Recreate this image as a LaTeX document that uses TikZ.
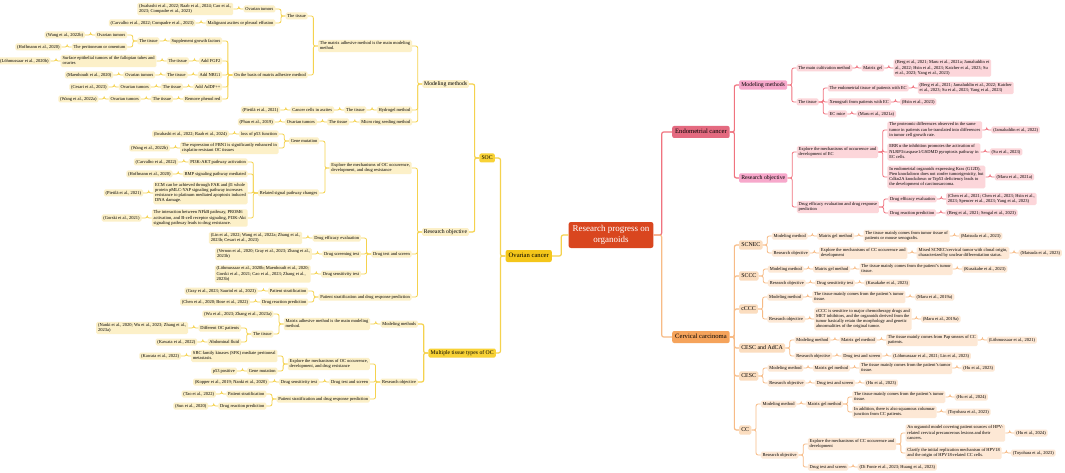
\documentclass[tikz,border=0pt]{standalone}
\usepackage{fontspec}
\setmainfont{Liberation Serif}
\usetikzlibrary{calc}
\definecolor{rootc}{HTML}{D9461F}
\definecolor{ytopc}{HTML}{F4C61A}
\definecolor{ymidc}{HTML}{F8D236}
\definecolor{yleafc}{HTML}{FCF0C8}
\definecolor{ylinec}{HTML}{F5D24E}
\definecolor{ptopc}{HTML}{E46A80}
\definecolor{pmidc}{HTML}{F7A8CB}
\definecolor{pleafc}{HTML}{FCD6DA}
\definecolor{plinec}{HTML}{F0737F}
\definecolor{otopc}{HTML}{F5A35B}
\definecolor{omidc}{HTML}{FBDDBF}
\definecolor{oleafc}{HTML}{FDE8D5}
\definecolor{olinec}{HTML}{F7BB86}
\tikzset{
 box/.style={rounded corners=1.5pt, align=left, inner xsep=1.8pt, inner ysep=0.9pt},
 leaf/.style={box, font=\fontsize{4.5}{5.2}\selectfont},
 yl/.style={leaf, fill=yleafc},
 pl/.style={leaf, fill=pleafc},
 ol/.style={leaf, fill=oleafc},
 ysub/.style={box, fill=yleafc, font=\fontsize{5.7}{6.8}\selectfont, inner ysep=0.5pt},
 ymid/.style={box, fill=ymidc, font=\fontsize{5.7}{6.8}\selectfont, inner xsep=2.2pt, inner ysep=1.1pt},
 ytop/.style={box, fill=ytopc, font=\fontsize{6.6}{8}\selectfont, inner xsep=3pt, inner ysep=2pt, rounded corners=2pt},
 pmid/.style={box, fill=pmidc, font=\fontsize{5.8}{7}\selectfont, inner xsep=2.2pt, inner ysep=1.1pt},
 ptop/.style={box, fill=ptopc, font=\fontsize{6.6}{8}\selectfont, inner xsep=3pt, inner ysep=2pt, rounded corners=2pt},
 omid/.style={box, fill=omidc, font=\fontsize{5.9}{7}\selectfont, inner xsep=2.2pt, inner ysep=1.1pt},
 otop/.style={box, fill=otopc, font=\fontsize{6.6}{8}\selectfont, inner xsep=3pt, inner ysep=2pt, rounded corners=2pt},
 root/.style={box, fill=rootc, text=white, font=\fontsize{9}{11}\selectfont, align=center, inner xsep=4pt, inner ysep=2pt, rounded corners=2.5pt},
 yln/.style={draw=ylinec, line width=0.8pt, rounded corners=2pt},
 ylt/.style={yln, line width=1.2pt},
 pln/.style={draw=plinec, line width=0.8pt, rounded corners=2pt},
 plt/.style={pln, line width=1.2pt},
 oln/.style={draw=olinec, line width=0.8pt, rounded corners=2pt},
 olt/.style={oln, line width=1.2pt},
}
% left-side child: style, line style, name, parent, y, text
\newcommand\LN[6]{%
  \coordinate (tmpa) at ([xshift=-10pt]#4.west);
  \coordinate (tmpb) at (0,#5);
  \node[#1,anchor=east] (#3) at (tmpa |- tmpb) {\strut #6\strut};
  \draw[#2] (#4.west) -- ++(-4.5,0) |- (#3.east);
}
% right-side child
\newcommand\RN[6]{%
  \coordinate (tmpa) at ([xshift=9pt]#4.east);
  \coordinate (tmpb) at (0,#5);
  \node[#1,anchor=west] (#3) at (tmpa |- tmpb) {\strut #6\strut};
  \draw[#2] (#4.east) -- ++(4.5,0) |- (#3.west);
}
\begin{document}
\begin{tikzpicture}[x=1pt,y=-1pt]
\useasboundingbox (0,0) rectangle (1065,473);
\fill[white] (0,0) rectangle (1065,473);
\node[root] (R) at (611,235) {\strut Research progress on\\organoids\strut};
\node[ytop,anchor=east] (OC) at (552,256) {\strut Ovarian cancer\strut};
\node[ymid,anchor=east] (SOC) at (495,158) {\strut SOC\strut};
\node[ymid,anchor=east] (MT) at (496,353) {\strut Multiple tissue types of OC\strut};
\node[ptop,anchor=west] (EC) at (672,132) {\strut Endometrial cancer\strut};
\node[otop,anchor=west] (CV) at (672,337) {\strut Cervical carcinoma\strut};
\draw[ylt] (R.west) -- ++(-7,0) |- (OC.east);
\draw[plt] (R.east) -- ++(8,0) |- (EC.west);
\draw[olt] (R.east) -- ++(8,0) |- (CV.west);
\draw[ylt] (OC.west) -- ++(-5,0) |- (SOC.east);
\draw[ylt] (OC.west) -- ++(-5,0) |- (MT.east);

% ---------- SOC ----------
\LN{ysub}{ylt}{S1}{SOC}{84}{Modeling methods}
\LN{ysub}{ylt}{S2}{SOC}{232}{Research objective}
\LN{yl}{yln}{S1a}{S1}{46}{The matrix adhesive method is the main modeling\\method.}
\LN{yl}{yln}{S1b}{S1}{110}{Hydrogel method}
\LN{yl}{yln}{S1c}{S1}{122}{Micro ring seeding method}
\LN{yl}{yln}{T1}{S1a}{16}{The tissue}
\LN{yl}{yln}{OB}{S1a}{75}{On the basis of matrix adhesive method}
\LN{yl}{yln}{T1a}{T1}{9}{Ovarian tumors}
\LN{yl}{yln}{T1b}{T1}{23}{Malignant ascites or pleural effusion}
\LN{yl}{yln}{T1aa}{T1a}{9}{(Iwahashi et al., 2022; Raab et al., 2024; Cao et al.,\\2023; Compadre et al., 2023)}
\LN{yl}{yln}{T1ba}{T1b}{23}{(Carvalho et al., 2022; Compadre et al., 2023)}
\LN{yl}{yln}{G1}{OB}{41}{Supplement growth factors}
\LN{yl}{yln}{G2}{OB}{61}{Add FGF2}
\LN{yl}{yln}{G3}{OB}{75}{Add NRG1}
\LN{yl}{yln}{G4}{OB}{87}{Add AdDF++}
\LN{yl}{yln}{G5}{OB}{99}{Remove phenol red}
\LN{yl}{yln}{G1t}{G1}{41}{The tissue}
\LN{yl}{yln}{G1a}{G1t}{35}{Ovarian tumors}
\LN{yl}{yln}{G1aa}{G1a}{35}{(Wang et al., 2022b)}
\LN{yl}{yln}{G1b}{G1t}{47}{The peritoneum or omentum}
\LN{yl}{yln}{G1ba}{G1b}{47}{(Hoffmann et al., 2020)}
\LN{yl}{yln}{G2t}{G2}{61}{The tissue}
\LN{yl}{yln}{G2a}{G2t}{61}{Surface epithelial tumors of the fallopian tubes and\\ovaries}
\LN{yl}{yln}{G2aa}{G2a}{61}{(Löhmussaar et al., 2020b)}
\LN{yl}{yln}{G3t}{G3}{75}{The tissue}
\LN{yl}{yln}{G3a}{G3t}{75}{Ovarian tumors}
\LN{yl}{yln}{G3aa}{G3a}{75}{(Maenhoudt et al., 2020)}
\LN{yl}{yln}{G4t}{G4}{87}{The tissue}
\LN{yl}{yln}{G4a}{G4t}{87}{Ovarian tumors}
\LN{yl}{yln}{G4aa}{G4a}{87}{(Cesari et al., 2023)}
\LN{yl}{yln}{G5t}{G5}{99}{The tissue}
\LN{yl}{yln}{G5a}{G5t}{99}{Ovarian tumors}
\LN{yl}{yln}{G5aa}{G5a}{99}{(Wang et al., 2022a)}
\LN{yl}{yln}{H1}{S1b}{110}{The tissue}
\LN{yl}{yln}{H2}{H1}{110}{Cancer cells in ascites}
\LN{yl}{yln}{H3}{H2}{110}{(Pietilä et al., 2021)}
\LN{yl}{yln}{M1}{S1c}{122}{The tissue}
\LN{yl}{yln}{M2}{M1}{122}{Ovarian tumors}
\LN{yl}{yln}{M3}{M2}{122}{(Phan et al., 2019)}

\LN{yl}{yln}{E1}{S2}{168}{Explore the mechanisms of OC occurrence,\\development, and drug resistance}
\LN{yl}{yln}{E2}{S2}{254}{Drug test and screen}
\LN{yl}{yln}{E3}{S2}{297}{Patient stratification and drug response prediction}
\LN{yl}{yln}{GM}{E1}{141}{Gene mutation}
\LN{yl}{yln}{RS}{E1}{193}{Related signal pathway changes}
\LN{yl}{yln}{GMa}{GM}{134}{loss of p53 function}
\LN{yl}{yln}{GMaa}{GMa}{134}{(Iwahashi et al., 2022; Raab et al., 2024)}
\LN{yl}{yln}{GMb}{GM}{148}{The expression of FBN1 is significantly enhanced in\\cisplatin-resistant OC tissues}
\LN{yl}{yln}{GMba}{GMb}{148}{(Wang et al., 2022b)}
\LN{yl}{yln}{RSa}{RS}{162}{PI3K-AKT pathway activation}
\LN{yl}{yln}{RSaa}{RSa}{162}{(Carvalho et al., 2022)}
\LN{yl}{yln}{RSb}{RS}{174}{BMP signaling pathway mediated}
\LN{yl}{yln}{RSba}{RSb}{174}{(Hoffmann et al., 2020)}
\LN{yl}{yln}{RSc}{RS}{193}{ECM can be achieved through FAK and β1 whole\\protein pMLC-YAP signaling pathway increases\\resistance to platinum mediated apoptosis induced\\DNA damage.}
\LN{yl}{yln}{RSca}{RSc}{193}{(Pietilä et al., 2021)}
\LN{yl}{yln}{RSd}{RS}{218}{The interaction between NFkB pathway, PROM6\\activation, and B-cell receptor signaling, PI3K-Akt\\signaling pathway leads to drug resistance.}
\LN{yl}{yln}{RSda}{RSd}{218}{(Gorski et al., 2021)}
\LN{yl}{yln}{DE}{E2}{238}{Drug efficacy evaluation}
\LN{yl}{yln}{DEa}{DE}{238}{(Lin et al., 2022; Wang et al., 2022a; Zhang et al.,\\2023b; Cesari et al., 2023)}
\LN{yl}{yln}{DS}{E2}{254}{Drug screening test}
\LN{yl}{yln}{DSa}{DS}{254}{(Vernon et al., 2020; Gray et al., 2023; Zhang et al.,\\2023b)}
\LN{yl}{yln}{DT}{E2}{274}{Drug sensitivity test}
\LN{yl}{yln}{DTa}{DT}{274}{(Löhmussaar et al., 2020b; Maenhoudt et al., 2020;\\Gorski et al., 2021; Cao et al., 2023; Zhang et al.,\\2023b)}
\LN{yl}{yln}{PS}{E3}{291}{Patient stratification}
\LN{yl}{yln}{PSa}{PS}{291}{(Gray et al., 2023; Sauriol et al., 2023)}
\LN{yl}{yln}{DR}{E3}{302}{Drug reaction prediction}
\LN{yl}{yln}{DRa}{DR}{302}{(Chen et al., 2020; Bose et al., 2022)}

% ---------- Multiple tissue types ----------
\LN{yl}{ylt}{MM}{MT}{324}{Modeling methods}
\LN{yl}{ylt}{MR}{MT}{382}{Research objective}
\LN{yl}{yln}{MA}{MM}{324}{Matrix adhesive method is the main modeling\\method.}
\LN{yl}{yln}{MAa}{MA}{314}{(Wu et al., 2023; Zhang et al., 2023a)}
\LN{yl}{yln}{MAt}{MA}{334}{The tissue}
\LN{yl}{yln}{MAt1}{MAt}{328}{Different OC patients}
\LN{yl}{yln}{MAt1a}{MAt1}{328}{(Nanki et al., 2020; Wu et al., 2023; Zhang et al.,\\2023a)}
\LN{yl}{yln}{MAt2}{MAt}{342}{Abdominal fluid}
\LN{yl}{yln}{MAt2a}{MAt2}{342}{(Kawata et al., 2022)}
\LN{yl}{yln}{ME}{MR}{364}{Explore the mechanisms of OC occurrence,\\development, and drug resistance}
\LN{yl}{yln}{MD}{MR}{382}{Drug test and screen}
\LN{yl}{yln}{MP}{MR}{399}{Patient stratification and drug response prediction}
\LN{yl}{yln}{SRC}{ME}{356}{SRC family kinases (SFK) mediate peritoneal\\metastasis.}
\LN{yl}{yln}{SRCa}{SRC}{356}{(Kawata et al., 2022)}
\LN{yl}{yln}{MG}{ME}{371}{Gene mutation}
\LN{yl}{yln}{MGa}{MG}{371}{p53 positive}
\LN{yl}{yln}{MDa}{MD}{382}{Drug sensitivity test}
\LN{yl}{yln}{MDaa}{MDa}{382}{(Kopper et al., 2019; Nanki et al., 2020)}
\LN{yl}{yln}{MPa}{MP}{394}{Patient stratification}
\LN{yl}{yln}{MPaa}{MPa}{394}{(Tao et al., 2022)}
\LN{yl}{yln}{MPb}{MP}{406}{Drug reaction prediction}
\LN{yl}{yln}{MPba}{MPb}{406}{(Sun et al., 2020)}

% ---------- Endometrial cancer ----------
\RN{pmid}{plt}{EM}{EC}{85}{Modeling methods}
\RN{pmid}{plt}{ER}{EC}{178}{Research objective}
\RN{pl}{pln}{EMa}{EM}{68}{The main cultivation method}
\RN{pl}{pln}{EMaa}{EMa}{68}{Matrix gel}
\RN{pl}{pln}{EMaaa}{EMaa}{68}{(Berg et al., 2021; Maru et al., 2021a; Jamaluddin et\\al., 2022; Hsin et al., 2023; Katcher et al., 2023; Su\\et al., 2023; Yang et al., 2023)}
\RN{pl}{pln}{EMt}{EM}{102}{The tissue}
\RN{pl}{pln}{EMt1}{EMt}{88}{The endometrial tissue of patients with EC}
\RN{pl}{pln}{EMt1a}{EMt1}{88}{(Berg et al., 2021; Jamaluddin et al., 2022; Katcher\\et al., 2023; Su et al., 2023; Yang et al., 2023)}
\RN{pl}{pln}{EMt2}{EMt}{102}{Xenograft from patients with EC}
\RN{pl}{pln}{EMt2a}{EMt2}{102}{(Hsin et al., 2023)}
\RN{pl}{pln}{EMt3}{EMt}{114}{EC mice}
\RN{pl}{pln}{EMt3a}{EMt3}{114}{(Maru et al., 2021a)}
\RN{pl}{pln}{EX}{ER}{152}{Explore the mechanisms of occurrence and\\development of EC}
\RN{pl}{pln}{ED}{ER}{207}{Drug efficacy evaluation and drug response\\prediction}
\RN{pl}{pln}{EX1}{EX}{130}{The proteomic differences observed in the same\\tumor in patients can be translated into differences\\in tumor cell growth rate.}
\RN{pl}{pln}{EX1a}{EX1}{130}{(Jamaluddin et al., 2022)}
\RN{pl}{pln}{EX2}{EX}{152}{ERR α the inhibition promotes the activation of\\NLRP3/caspase1/GSDMD pyroptosis pathway in\\EC cells.}
\RN{pl}{pln}{EX2a}{EX2}{152}{(Su et al., 2023)}
\RN{pl}{pln}{EX3}{EX}{177}{In endometrial organoids expressing Kras (G12D),\\Pten knockdown does not confer tumorigenicity, but\\Cdkn2A knockdown or Trp53 deficiency leads to\\the development of carcinosarcoma.}
\RN{pl}{pln}{EX3a}{EX3}{177}{(Maru et al., 2021a)}
\RN{pl}{pln}{ED1}{ED}{199}{Drug efficacy evaluation}
\RN{pl}{pln}{ED1a}{ED1}{199}{(Chen et al., 2021; Chen et al., 2023; Hsin et al.,\\2023; Spencer et al., 2023; Yang et al., 2023)}
\RN{pl}{pln}{ED2}{ED}{213}{Drug reaction prediction}
\RN{pl}{pln}{ED2a}{ED2}{213}{(Berg et al., 2021; Sengal et al., 2023)}

% ---------- Cervical carcinoma ----------
\RN{omid}{olt}{C1}{CV}{245}{SCNEC}
\RN{omid}{olt}{C2}{CV}{276}{SCCC}
\RN{omid}{olt}{C3}{CV}{309}{cCCC}
\RN{omid}{olt}{C4}{CV}{348}{CESC and AdCA}
\RN{omid}{olt}{C5}{CV}{376}{CESC}
\RN{omid}{olt}{C6}{CV}{430}{CC}

\RN{ol}{oln}{C1m}{C1}{236}{Modeling method}
\RN{ol}{oln}{C1mg}{C1m}{236}{Matrix gel method}
\RN{ol}{oln}{C1mt}{C1mg}{236}{The tissue mainly comes from tumor tissue of\\patients or mouse xenografts.}
\RN{ol}{oln}{C1mc}{C1mt}{236}{(Matsuda et al., 2023)}
\RN{ol}{oln}{C1r}{C1}{253}{Research objective}
\RN{ol}{oln}{C1re}{C1r}{253}{Explore the mechanisms of CC occurrence and\\development}
\RN{ol}{oln}{C1rx}{C1re}{253}{Mixed SCNEC/cervical tumor with clonal origin,\\characterized by unclear differentiation status.}
\RN{ol}{oln}{C1rc}{C1rx}{253}{(Matsuda et al., 2023)}

\RN{ol}{oln}{C2m}{C2}{269}{Modeling method}
\RN{ol}{oln}{C2mg}{C2m}{269}{Matrix gel method}
\RN{ol}{oln}{C2mt}{C2mg}{269}{The tissue mainly comes from the patient's tumor\\tissue.}
\RN{ol}{oln}{C2mc}{C2mt}{269}{(Kusakabe et al., 2023)}
\RN{ol}{oln}{C2r}{C2}{283}{Research objective}
\RN{ol}{oln}{C2rd}{C2r}{283}{Drug sensitivity test}
\RN{ol}{oln}{C2rc}{C2rd}{283}{(Kusakabe et al., 2023)}

\RN{ol}{oln}{C3m}{C3}{297}{Modeling method}
\RN{ol}{oln}{C3mt}{C3m}{297}{The tissue mainly comes from the patient's tumor\\tissue.}
\RN{ol}{oln}{C3mc}{C3mt}{297}{(Maru et al., 2019a)}
\RN{ol}{oln}{C3r}{C3}{319}{Research objective}
\RN{ol}{oln}{C3rx}{C3r}{319}{cCCC is sensitive to major chemotherapy drugs and\\MET inhibitors, and the organoids derived from the\\tumor basically retain the morphology and genetic\\abnormalities of the original tumor.}
\RN{ol}{oln}{C3rc}{C3rx}{319}{(Maru et al., 2019a)}

\RN{ol}{oln}{C4m}{C4}{340}{Modeling method}
\RN{ol}{oln}{C4mg}{C4m}{340}{Matrix gel method}
\RN{ol}{oln}{C4mt}{C4mg}{340}{The tissue mainly comes from Pap smears of CC\\patients.}
\RN{ol}{oln}{C4mc}{C4mt}{340}{(Löhmussaar et al., 2021)}
\RN{ol}{oln}{C4r}{C4}{356}{Research objective}
\RN{ol}{oln}{C4rd}{C4r}{356}{Drug test and screen}
\RN{ol}{oln}{C4rc}{C4rd}{356}{(Löhmussaar et al., 2021; Lin et al., 2023)}

\RN{ol}{oln}{C5m}{C5}{368}{Modeling method}
\RN{ol}{oln}{C5mg}{C5m}{368}{Matrix gel method}
\RN{ol}{oln}{C5mt}{C5mg}{368}{The tissue mainly comes from the patient's tumor\\tissue.}
\RN{ol}{oln}{C5mc}{C5mt}{368}{(Hu et al., 2023)}
\RN{ol}{oln}{C5r}{C5}{383}{Research objective}
\RN{ol}{oln}{C5rd}{C5r}{383}{Drug test and screen}
\RN{ol}{oln}{C5rc}{C5rd}{383}{(Hu et al., 2023)}

\RN{ol}{oln}{C6m}{C6}{404}{Modeling method}
\RN{ol}{oln}{C6mg}{C6m}{404}{Matrix gel method}
\RN{ol}{oln}{C6ma}{C6mg}{397}{The tissue mainly comes from the patient's tumor\\tissue.}
\RN{ol}{oln}{C6mac}{C6ma}{397}{(Hu et al., 2024)}
\RN{ol}{oln}{C6mb}{C6mg}{412}{In addition, there is also squamous columnar\\junction from CC patients.}
\RN{ol}{oln}{C6mbc}{C6mb}{412}{(Toyohara et al., 2023)}
\RN{ol}{oln}{C6r}{C6}{455}{Research objective}
\RN{ol}{oln}{C6x}{C6r}{444}{Explore the mechanisms of CC occurrence and\\development}
\RN{ol}{oln}{C6x1}{C6x}{433}{An organoid model covering patient sources of HPV-\\related cervical precancerous lesions and their\\cancers.}
\RN{ol}{oln}{C6x1c}{C6x1}{433}{(Hu et al., 2024)}
\RN{ol}{oln}{C6x2}{C6x}{453}{Clarify the initial replication mechanism of HPV18\\and the origin of HPV18-related CC cells.}
\RN{ol}{oln}{C6x2c}{C6x2}{453}{(Toyohara et al., 2023)}
\RN{ol}{oln}{C6d}{C6r}{467}{Drug test and screen}
\RN{ol}{oln}{C6dc}{C6d}{467}{(Di Fonte et al., 2023; Huang et al., 2023)}
\end{tikzpicture}
\end{document}
